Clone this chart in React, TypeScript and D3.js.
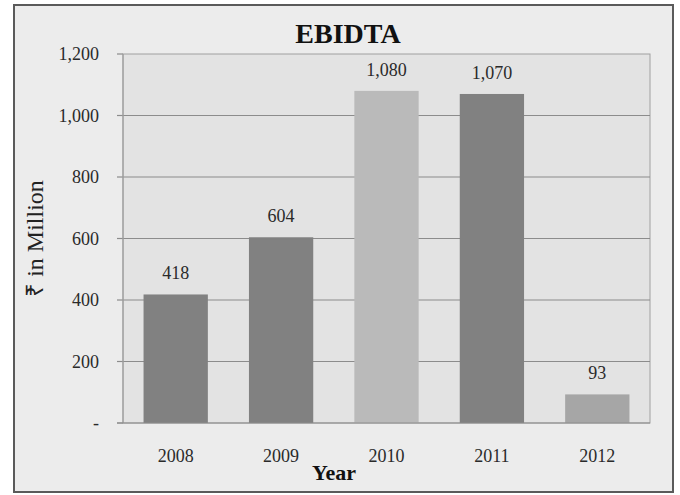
import React from "react";
import * as d3 from "d3";

const years = ["2008", "2009", "2010", "2011", "2012"];
const values = [418, 604, 1080, 1070, 93];
const valueLabels = ["418", "604", "1,080", "1,070", "93"];
const barColors = ["#818181", "#818181", "#bababa", "#818181", "#a6a6a6"];
const yTicks = [0, 200, 400, 600, 800, 1000, 1200];

const W = 680;
const H = 495;
const plot = { left: 123, right: 650, top: 54, bottom: 423 };
const serif = "'Liberation Serif', 'Times New Roman', serif";

export default function App() {
  const x = d3.scaleBand<string>().domain(years).range([plot.left, plot.right]).paddingInner(0.39).paddingOuter(0.195);
  const y = d3.scaleLinear().domain([0, 1200]).range([plot.bottom, plot.top]);
  const fmt = (v: number) => (v === 0 ? "-" : d3.format(",")(v));

  return (
    <svg width={W} height={H} style={{ position: "absolute", left: 0, top: 0 }}>
      <rect x={0} y={0} width={W} height={H} fill="#ffffff" />
      <rect x={14} y={5} width={659} height={487} fill="#ececec" stroke="#5a5a5a" strokeWidth={2} />
      <rect x={plot.left} y={plot.top} width={plot.right - plot.left} height={plot.bottom - plot.top} fill="#e3e3e3" stroke="#a0a0a0" strokeWidth={1} />
      {yTicks.map((t) => (
        <g key={t}>
          {t > 0 && t < 1200 && (
            <line x1={plot.left} x2={plot.right} y1={y(t)} y2={y(t)} stroke="#8c8c8c" strokeWidth={1.2} />
          )}
          <line x1={117} x2={plot.left} y1={y(t)} y2={y(t)} stroke="#8c8c8c" strokeWidth={1.2} />
          <text x={99} y={y(t)} dy="0.35em" textAnchor="end" fontFamily={serif} fontSize={18} fill="#2a2a2a">
            {fmt(t)}
          </text>
        </g>
      ))}
      {years.map((yr, i) => (
        <g key={yr}>
          <rect x={x(yr)} y={y(values[i])} width={x.bandwidth()} height={plot.bottom - y(values[i])} fill={barColors[i]} />
          <text x={(x(yr) as number) + x.bandwidth() / 2} y={y(values[i]) - 15} textAnchor="middle" fontFamily={serif} fontSize={18} fill="#2a2a2a">
            {valueLabels[i]}
          </text>
          <text x={(x(yr) as number) + x.bandwidth() / 2} y={462} textAnchor="middle" fontFamily={serif} fontSize={18} fill="#2a2a2a">
            {yr}
          </text>
        </g>
      ))}
      <line x1={plot.left} x2={plot.left} y1={plot.top} y2={plot.bottom} stroke="#a0a0a0" strokeWidth={1.2} />
      <line x1={117} x2={plot.right} y1={plot.bottom} y2={plot.bottom} stroke="#8c8c8c" strokeWidth={1.2} />
      <text x={348} y={43} textAnchor="middle" fontFamily={serif} fontSize={28} fontWeight="bold" fill="#111">
        EBIDTA
      </text>
      <text x={334} y={480} textAnchor="middle" fontFamily={serif} fontSize={22} fontWeight="bold" fill="#111">
        Year
      </text>
      <text transform={`translate(43,${(plot.top + plot.bottom) / 2}) rotate(-90)`} textAnchor="middle" fontFamily={serif} fontSize={24} fill="#222">
        ₹ in Million
      </text>
    </svg>
  );
}
